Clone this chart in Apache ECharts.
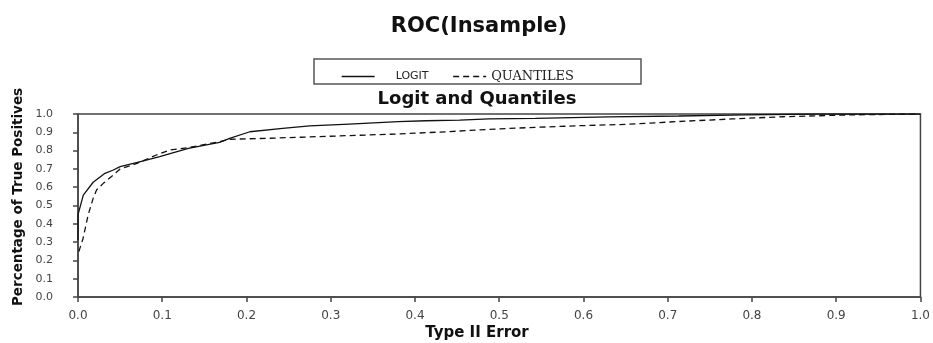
<!DOCTYPE html>
<html>
<head>
<meta charset="utf-8">
<script src="https://cdn.jsdelivr.net/npm/echarts@6/dist/echarts.min.js"></script>
<style>
html,body{margin:0;padding:0;background:#fff;}
#chart{width:933px;height:343px;}
</style>
</head>
<body>
<div id="chart"></div>
<script>
// Type II Error (x) values and True Positive rates (y)
const logitX = [0.0, 0.0, 0.0063, 0.018, 0.032, 0.042, 0.050, 0.073, 0.097, 0.131, 0.168, 0.180, 0.204, 0.243, 0.275, 0.322, 0.380, 0.413, 0.453, 0.488, 0.543, 0.630, 0.713, 0.792, 0.875, 1.0];
const logitY = [0.31, 0.45, 0.557, 0.627, 0.676, 0.694, 0.712, 0.739, 0.767, 0.812, 0.845, 0.867, 0.903, 0.921, 0.935, 0.945, 0.958, 0.963, 0.967, 0.973, 0.976, 0.984, 0.989, 0.995, 1.0, 1.0];
const quantX = [0.001, 0.006, 0.012, 0.018, 0.022, 0.030, 0.042, 0.050, 0.070, 0.093, 0.109, 0.131, 0.168, 0.180, 0.224, 0.283, 0.381, 0.437, 0.496, 0.543, 0.595, 0.654, 0.709, 0.776, 0.836, 0.915, 0.994];
const quantY = [0.248, 0.32, 0.448, 0.539, 0.585, 0.621, 0.667, 0.70, 0.73, 0.776, 0.803, 0.816, 0.849, 0.862, 0.867, 0.876, 0.891, 0.903, 0.918, 0.927, 0.936, 0.944, 0.958, 0.973, 0.985, 0.995, 1.0];
const seriesNames = ['LOGIT', 'QUANTILES'];
const xTicks = [0.0, 0.1, 0.2, 0.3, 0.4, 0.5, 0.6, 0.7, 0.8, 0.9, 1.0];
const yTicks = [0.0, 0.1, 0.2, 0.3, 0.4, 0.5, 0.6, 0.7, 0.8, 0.9, 1.0];

const zip = (xs, ys) => xs.map((x, i) => [x, ys[i]]);

const chart = echarts.init(document.getElementById('chart'), null, {renderer: 'canvas'});
chart.setOption({
  animation: false,
  backgroundColor: '#fff',
  grid: {left: 78, right: 11, top: 114, bottom: 46, show: true, borderColor: '#444', borderWidth: 1.5, backgroundColor: 'transparent'},
  legend: {
    left: 336, top: 65, itemWidth: 33, itemHeight: 14, itemGap: 24,
    data: seriesNames,
    itemStyle: {color: 'rgba(0,0,0,0)', borderColor: 'rgba(0,0,0,0)', borderWidth: 0},
    lineStyle: {color: '#111', width: 1.3},
    formatter: n => n === 'LOGIT' ? '{a|LOGIT}' : '{b|QUANTILES}',
    textStyle: {
      rich: {
        a: {fontFamily: 'DejaVu Sans', fontSize: 11, color: '#222', padding: [0, 0, 0, 16]},
        b: {fontFamily: 'DejaVu Serif', fontSize: 13, color: '#222'}
      }
    }
  },
  xAxis: {
    type: 'value', min: xTicks[0], max: xTicks[xTicks.length - 1], interval: 0.1,
    axisLine: {show: true, lineStyle: {color: '#444', width: 1.5}},
    axisTick: {show: true, length: 5, lineStyle: {color: '#444', width: 1.5}},
    axisLabel: {margin: 13, fontFamily: 'DejaVu Sans', fontSize: 12, color: '#444', formatter: v => v.toFixed(1)},
    splitLine: {show: false}
  },
  yAxis: {
    type: 'value', min: yTicks[0], max: yTicks[yTicks.length - 1], interval: 0.1,
    axisLine: {show: true, lineStyle: {color: '#444', width: 1.5}},
    axisTick: {show: true, length: 5, lineStyle: {color: '#444', width: 1.5}},
    axisLabel: {margin: 25, fontFamily: 'DejaVu Sans', fontSize: 11, color: '#444', formatter: v => v.toFixed(1)},
    splitLine: {show: false}
  },
  series: [
    {name: seriesNames[0], type: 'line', data: zip(logitX, logitY), symbol: 'none', color: '#111',
     lineStyle: {color: '#111', width: 1.3, type: 'solid'}},
    {name: seriesNames[1], type: 'line', data: zip(quantX, quantY), symbol: 'none', color: '#111',
     lineStyle: {color: '#111', width: 1.3, type: [6, 4]}}
  ],
  graphic: [
    {type: 'rect', shape: {x: 314, y: 59, width: 327, height: 25}, style: {fill: 'none', stroke: '#555', lineWidth: 1.5}, silent: true},
    {type: 'text', x: 479, y: 27, style: {text: 'ROC(Insample)', fontFamily: 'DejaVu Sans', fontWeight: 'bold', fontSize: 21, fill: '#111', align: 'center', verticalAlign: 'middle'}},
    {type: 'text', x: 477, y: 99, style: {text: 'Logit and Quantiles', fontFamily: 'DejaVu Sans', fontWeight: 'bold', fontSize: 18, fill: '#111', align: 'center', verticalAlign: 'middle'}},
    {type: 'text', x: 477, y: 333, style: {text: 'Type II Error', fontFamily: 'DejaVu Sans', fontWeight: 'bold', fontSize: 15, fill: '#111', align: 'center', verticalAlign: 'middle'}},
    {type: 'text', x: 18, y: 197, rotation: Math.PI / 2, style: {text: 'Percentage of True Positives', fontFamily: 'DejaVu Sans', fontWeight: 'bold', fontSize: 13.5, fill: '#111', align: 'center', verticalAlign: 'middle'}}
  ]
});
</script>
</body>
</html>
